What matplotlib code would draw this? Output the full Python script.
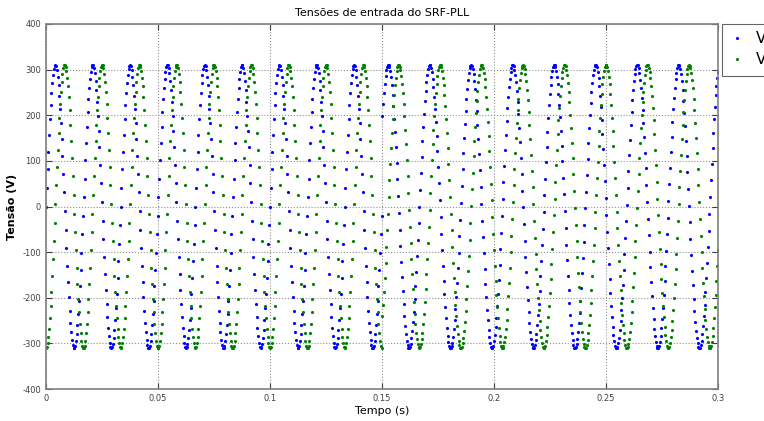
import matplotlib
matplotlib.use("Agg")
import matplotlib.pyplot as plt
import numpy as np

# signal: 311 V peak, 60 Hz then 54 Hz after t = 0.15 s
amplitude = 311.0
freq_before = 60.0
freq_after = 54.0
t_step = 0.15
t_end = 0.3
Ts = 1.0 / 2850.0

x_ticks = [0, 0.05, 0.1, 0.15, 0.2, 0.25, 0.3]
x_tick_labels = ['0', '0.05', '0.1', '0.15', '0.2', '0.25', '0.3']
y_ticks = [-400, -300, -200, -100, 0, 100, 200, 300, 400]

t = np.arange(0, t_end + Ts / 2, Ts)
f = np.where(t < t_step, freq_before, freq_after)
v_alpha = amplitude * np.sin(2 * np.pi * f * t)
v_beta = -amplitude * np.cos(2 * np.pi * f * t)

plt.rcParams['axes.unicode_minus'] = False
fig = plt.figure(figsize=(7.64, 4.21), dpi=100)
ax = fig.add_axes([0.0602, 0.076, 0.8796, 0.867])

ax.plot(t, v_alpha, '.', color=(0, 0, 1), markersize=2.5, label=r'V$_\alpha$')
ax.plot(t, v_beta, '.', color=(0, 0.5, 0), markersize=2.5, label=r'V$_\beta$')

ax.set_xlim(0, 0.3)
ax.set_ylim(-400, 400)
ax.set_xticks(x_ticks)
ax.set_xticklabels(x_tick_labels)
ax.set_yticks(y_ticks)
ax.grid(True, linestyle=':', color='#909090', linewidth=0.8)
ax.tick_params(direction='in', length=4, labelsize=6, colors='#404040',
               top=True, right=True)
for s in ax.spines.values():
    s.set_color('#808080')
    s.set_linewidth(1.2)

ax.set_title('Tensões de entrada do SRF-PLL', fontsize=8)
ax.set_xlabel('Tempo (s)', fontsize=8, labelpad=2)
ax.set_ylabel('Tensão (V)', fontsize=8, fontweight='bold', labelpad=4)

# legend sits outside the axes and runs off the right edge, like the original
leg = fig.legend(loc='upper left', bbox_to_anchor=(722 / 764, 1 - 24 / 421),
                 borderaxespad=0, fontsize=11, frameon=True, fancybox=False,
                 handlelength=1.2, handletextpad=0.6, borderpad=0.35,
                 labelspacing=0.15)
leg.get_frame().set_edgecolor('#404040')
leg.get_frame().set_linewidth(0.8)

plt.savefig('out.png', dpi=100)
